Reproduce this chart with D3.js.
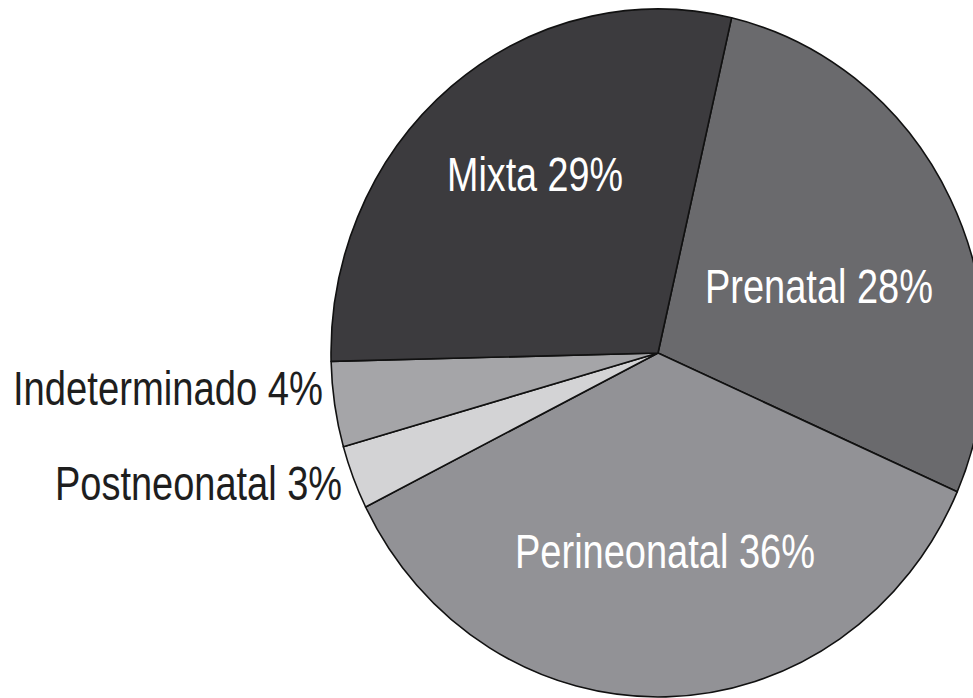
<!DOCTYPE html>
<html>
<head>
<meta charset="utf-8">
<script src="https://cdn.jsdelivr.net/npm/d3@7"></script>
<style>
  html, body { margin: 0; padding: 0; background: #ffffff; }
  svg { display: block; }
  text { font-family: "Liberation Sans", Arial, sans-serif; }
</style>
</head>
<body>
<svg id="chart" width="973" height="698"></svg>
<script>
// ---- data ----
const categories = ["Prenatal", "Perineonatal", "Postneonatal", "Indeterminado", "Mixta"];
const values = [28, 36, 3, 4, 29];
const colors = ["#6a6a6d", "#929296", "#d3d3d5", "#a5a5a8", "#3c3b3e"];

// ---- layout ----
const W = 973, H = 698;
const cx = 658, cy = 353;
const rx = 327, ry = 344;
const startDeg = 13;
// label placement (pixel layout), index aligned with categories
const labelLayout = [
  { x: 705, y: 303, w: 228, fill: "#ffffff" },
  { x: 515, y: 568, w: 300, fill: "#ffffff" },
  { x: 55,  y: 500, w: 287, fill: "#1e1e1e" },
  { x: 13,  y: 405, w: 310, fill: "#1e1e1e" },
  { x: 447, y: 191, w: 176, fill: "#ffffff" }
];

const svg = d3.select("#chart");
svg.append("rect").attr("width", W).attr("height", H).attr("fill", "#ffffff");

const data = categories.map((c, i) => ({ cat: c, value: values[i], i }));

const pie = d3.pie()
  .sort(null)
  .value(d => d.value)
  .startAngle(startDeg * Math.PI / 180)
  .endAngle(startDeg * Math.PI / 180 + 2 * Math.PI);

const arc = d3.arc().innerRadius(0).outerRadius(rx);

const g = svg.append("g")
  .attr("transform", `translate(${cx},${cy}) scale(1,${ry / rx})`);

g.selectAll("path")
  .data(pie(data))
  .join("path")
  .attr("d", arc)
  .attr("fill", d => colors[d.data.i])
  .attr("stroke", "#111")
  .attr("stroke-width", 1.6)
  .attr("stroke-linejoin", "round")
  .attr("vector-effect", "non-scaling-stroke");

svg.selectAll("text.lbl")
  .data(data)
  .join("text")
  .attr("class", "lbl")
  .attr("x", d => labelLayout[d.i].x)
  .attr("y", d => labelLayout[d.i].y)
  .attr("text-anchor", "start")
  .attr("fill", d => labelLayout[d.i].fill)
  .attr("font-size", 48)
  .attr("textLength", d => labelLayout[d.i].w)
  .attr("lengthAdjust", "spacingAndGlyphs")
  .text(d => `${d.cat} ${d.value}%`);
</script>
</body>
</html>
